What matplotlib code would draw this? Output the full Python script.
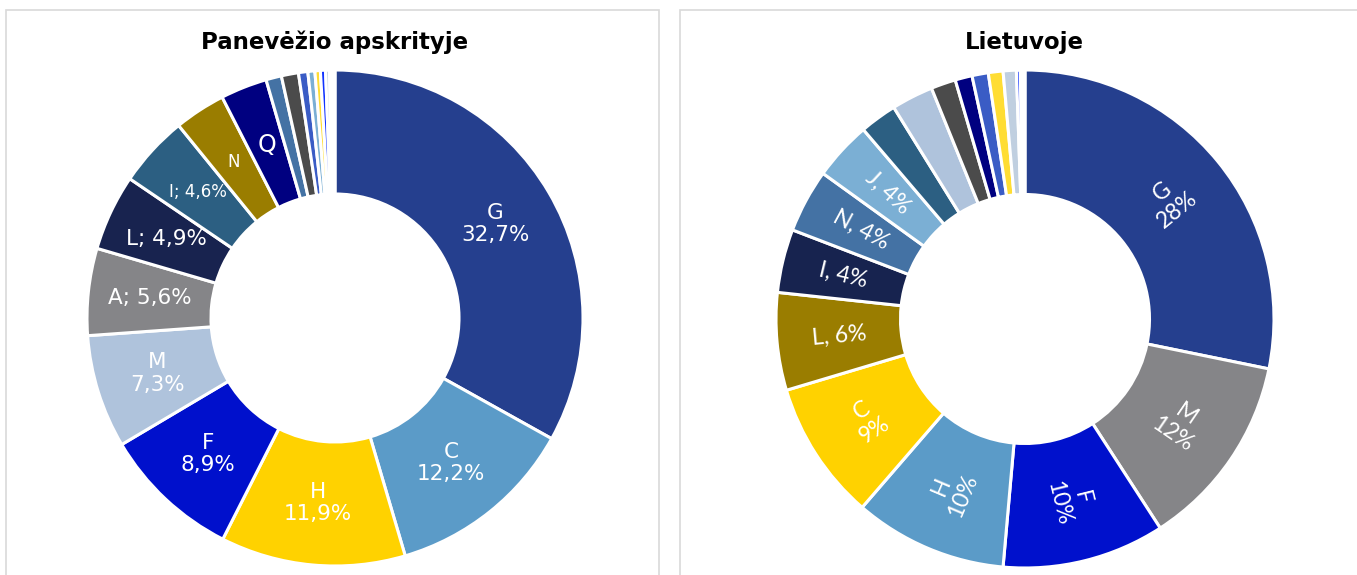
import matplotlib
matplotlib.use('Agg')
import numpy as np
import matplotlib.pyplot as plt
from matplotlib.patches import Rectangle

# --- data ---
left_title = 'Panevėžio apskrityje'
left_codes = ['G', 'C', 'H', 'F', 'M', 'A', 'L', 'I', 'N', 'Q',
              's1', 's2', 's3', 's4', 's5', 's6', 's7', 's8']
left_values = [32.7, 12.2, 11.9, 8.9, 7.3, 5.6, 4.9, 4.6, 3.3, 3.0,
               1.0, 1.1, 0.6, 0.45, 0.35, 0.33, 0.25, 0.35]
left_labels = ['G\n32,7%', 'C\n12,2%', 'H\n11,9%', 'F\n8,9%', 'M\n7,3%',
               'A; 5,6%', 'L; 4,9%', 'I; 4,6%', 'N', 'Q',
               '', '', '', '', '', '', '', '']
left_colors = ['#253F8E', '#5B9BC8', '#FFD200', '#0010CC', '#AFC3DC',
               '#858588', '#18234F', '#2C5F82', '#9A7D00', '#000080',
               '#4472A4', '#4B4B4B', '#3A5CC5', '#7BAFD4', '#FFDD33',
               '#1133FF', '#C0CFE0', '#FFFFFF']

right_title = 'Lietuvoje'
right_codes = ['G', 'M', 'F', 'H', 'C', 'L', 'I', 'N', 'J',
               's1', 's2', 's3', 's4', 's5', 's6', 's7', 's8', 's9']
right_values = [28.1, 12.6, 10.5, 9.9, 9.0, 6.3, 4.1, 4.1, 3.8,
                2.4, 2.7, 1.6, 1.1, 1.05, 0.95, 0.85, 0.25, 0.3]
right_labels = ['G\n28%', 'M\n12%', 'F\n10%', 'H\n10%', 'C\n9%',
                'L, 6%', 'I, 4%', 'N, 4%', 'J, 4%',
                '', '', '', '', '', '', '', '', '']
right_colors = ['#253F8E', '#858588', '#0011CC', '#5B9BC8', '#FFD200',
                '#9A7D00', '#17234F', '#4472A4', '#7BAFD4',
                '#2C5F82', '#AFC3DC', '#4B4B4B', '#000080', '#3A5CC5',
                '#FFDD33', '#C0CFE0', '#1133FF', '#FFFFFF']

W, H = 1357, 575
fig = plt.figure(figsize=(W / 100, H / 100), dpi=100)

# panel frames
fig.patches.append(Rectangle((6 / W, -0.1), (659 - 6) / W, 1.1 - 10 / H,
                             transform=fig.transFigure, fill=False,
                             edgecolor='#D9D9D9', linewidth=1.2))
fig.patches.append(Rectangle((680 / W, -0.1), 1.0, 1.1 - 10 / H,
                             transform=fig.transFigure, fill=False,
                             edgecolor='#D9D9D9', linewidth=1.2))


def donut(cx, cy, r, values, colors, labels, rotate, family, sizes):
    ax = fig.add_axes([(cx - r) / W, (H - cy - r) / H, 2 * r / W, 2 * r / H])
    wedges, _ = ax.pie(values, colors=colors, startangle=90, counterclock=False,
                       radius=1.0,
                       wedgeprops=dict(width=0.5, edgecolor='white', linewidth=2.2))
    for w, lab, fs in zip(wedges, labels, sizes):
        if not lab:
            continue
        mid = 0.5 * (w.theta1 + w.theta2)
        x = 0.75 * np.cos(np.radians(mid))
        y = 0.75 * np.sin(np.radians(mid))
        rot = 0
        if rotate:
            m = mid % 360
            rot = m - 180 if 90 < m < 270 else m
        ax.text(x, y, lab, ha='center', va='center', color='white',
                fontsize=fs, rotation=rot, rotation_mode='anchor',
                family=family, linespacing=1.15)
    ax.set_xlim(-1, 1)
    ax.set_ylim(-1, 1)
    ax.set_aspect('equal')
    ax.axis('off')
    return ax


left_sizes = [15.5, 15.5, 15.5, 15.5, 15.5, 15.5, 15.5, 12, 12, 17] + [10] * 8
right_sizes = [16.5] * 9 + [10] * 9
donut(335, 318, 248, left_values, left_colors, left_labels, False,
      'DejaVu Sans', left_sizes)
donut(1025, 319, 249, right_values, right_colors, right_labels, True,
      'Lato', right_sizes)

fig.text(335 / W, 1 - 42 / H, left_title, ha='center', va='center',
         fontsize=16.5, fontweight='bold', family='DejaVu Sans')
fig.text(1024 / W, 1 - 42 / H, right_title, ha='center', va='center',
         fontsize=16.5, fontweight='bold', family='DejaVu Sans')

plt.savefig('out.png', dpi=100)
plt.close(fig)
